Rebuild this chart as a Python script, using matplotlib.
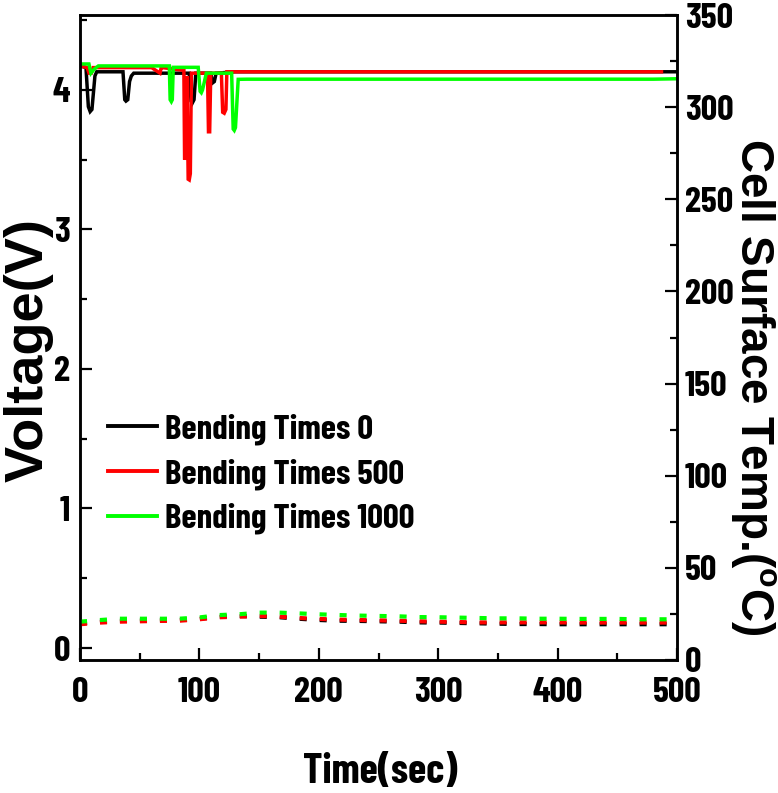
import matplotlib
matplotlib.use("Agg")
import matplotlib.pyplot as plt
from matplotlib.ticker import MultipleLocator

# ---------------- data ----------------
# Voltage traces (time in sec, voltage in V)
t_b0 = [1, 5, 7, 8.5, 10, 12.5, 14, 36, 37.5, 38.5, 40, 41.5, 43, 45, 60, 91.5, 93, 94, 95.5, 97, 109.5, 111, 112.5, 114, 130, 500]
v_b0 = [4.17, 4.16, 3.88, 3.845, 3.86, 4.10, 4.13, 4.13, 3.93, 3.92, 3.93, 4.06, 4.10, 4.12, 4.12, 4.12, 3.92, 3.905, 3.93, 4.12, 4.12, 4.05, 4.06, 4.12, 4.13, 4.13]

t_b500 = [1, 6, 7.5, 9.5, 11, 60, 67, 68, 69, 87, 87.6, 88.2, 88.8, 89.6, 90.6, 91.5, 92.4, 93.3, 106.8, 107.6, 108.6, 109.5, 118.4, 119.5, 120.8, 122.2, 123, 140, 487]
v_b500 = [4.17, 4.16, 4.12, 4.12, 4.16, 4.16, 4.12, 4.16, 4.16, 4.14, 3.50, 3.52, 3.60, 4.10, 3.36, 3.355, 3.40, 4.12, 4.12, 3.70, 3.70, 4.12, 4.12, 3.84, 3.833, 3.86, 4.13, 4.13, 4.13]

t_b1000 = [1, 7.5, 9.2, 12, 15.4, 74.8, 75.5, 76.5, 77.3, 78.1, 99, 100.6, 101.6, 102.6, 105.8, 127, 128.3, 129.2, 130.2, 132.5, 140, 480, 500]
v_b1000 = [4.186, 4.186, 4.12, 4.15, 4.172, 4.172, 3.93, 3.916, 3.93, 4.162, 4.162, 3.99, 3.98, 4.00, 4.12, 4.12, 3.72, 3.71, 3.73, 4.076, 4.077, 4.077, 4.08]

# Cell surface temperature (time in sec, temperature in degC)
t_temp = [0, 17, 33, 50, 67, 83, 100, 117, 133, 150, 167, 183, 200, 217, 233, 250,
          267, 283, 300, 317, 333, 350, 367, 383, 400, 417, 433, 450, 467, 483, 500]
T_b0 = [19.9, 20.8, 21.3, 21.5, 21.7, 21.7, 22.4, 23.5, 23.9, 23.5, 23.2, 22.4, 21.7, 21.3, 21.2, 21.0,
        20.8, 20.4, 20.3, 20.1, 19.9, 19.7, 19.5, 19.5, 19.4, 19.4, 19.4, 19.4, 19.4, 19.4, 19.4]
T_b500 = [19.4, 20.3, 20.8, 21.0, 21.2, 21.3, 22.1, 23.2, 23.5, 23.9, 23.5, 22.8, 22.3, 21.9, 21.7, 21.5,
          21.3, 21.0, 20.8, 20.6, 20.4, 20.4, 20.4, 20.4, 20.4, 20.3, 20.3, 20.3, 20.3, 20.3, 20.3]
T_b1000 = [20.8, 21.7, 22.4, 22.4, 22.4, 22.4, 23.1, 24.4, 24.8, 25.7, 25.7, 25.3, 24.8, 24.4, 24.1, 23.9,
           23.7, 23.3, 23.2, 23.0, 22.8, 22.6, 22.6, 22.4, 22.4, 22.3, 22.3, 22.3, 22.1, 22.1, 22.1]

labels = ["Bending Times 0", "Bending Times 500", "Bending Times 1000"]
colors = ["#000000", "#ff0000", "#00ff00"]

# ---------------- style ----------------
NARROW = ['Barlow Condensed', 'Liberation Sans', 'DejaVu Sans']
WIDE = ['Liberation Sans', 'DejaVu Sans']
plt.rcParams['font.family'] = NARROW
plt.rcParams['font.weight'] = 'bold'
plt.rcParams['mathtext.fontset'] = 'custom'
plt.rcParams['mathtext.rm'] = 'Liberation Sans:bold'
plt.rcParams['mathtext.bf'] = 'Liberation Sans:bold'

W, H = 778, 793
fig = plt.figure(figsize=(W / 100, H / 100), dpi=100)
L, R, B, T = 80, 677, 660, 15
ax = fig.add_axes([L / W, 1 - B / H, (R - L) / W, (B - T) / H])
ax2 = ax.twinx()

lw = 2.5
for t, v, c, lab in zip([t_b0, t_b500, t_b1000], [v_b0, v_b500, v_b1000], colors, labels):
    ax.plot(t, v, color=c, lw=lw, label=lab, solid_joinstyle='miter')

for TT, c in zip([T_b0, T_b500, T_b1000], colors):
    ax2.plot(t_temp, TT, color=c, lw=3, linestyle=(0, (1.7, 3.1)))

ax.set_xlim(0, 500)
ax.set_ylim(-0.086, 4.537)
ax2.set_ylim(0, 350)

ax.xaxis.set_major_locator(MultipleLocator(100))
ax.xaxis.set_minor_locator(MultipleLocator(50))
ax.yaxis.set_major_locator(MultipleLocator(1))
ax.yaxis.set_minor_locator(MultipleLocator(0.5))
ax2.yaxis.set_major_locator(MultipleLocator(50))
ax2.yaxis.set_minor_locator(MultipleLocator(25))

tick_fs = 26
ax.tick_params(axis='both', which='major', direction='in', length=8.5, width=1.6,
               labelsize=tick_fs, top=False, right=False)
ax.tick_params(axis='both', which='minor', direction='in', length=5, width=1.6,
               top=False, right=False)
ax.tick_params(axis='x', which='major', pad=12)
ax.tick_params(axis='y', which='major', pad=7)
ax2.tick_params(axis='y', which='major', direction='in', length=8.5, width=1.6,
                labelsize=tick_fs, pad=5.5, left=False, right=True)
ax2.tick_params(axis='y', which='minor', direction='in', length=5, width=1.6,
                left=False, right=True)

for a in (ax, ax2):
    for s in a.spines.values():
        s.set_linewidth(1.8)
    for lab in a.get_xticklabels() + a.get_yticklabels():
        lab.set_fontweight('bold')

ax.text(-0.086, 0.48, "Voltage(V)", transform=ax.transAxes, rotation=90,
        ha='center', va='center', fontsize=39, fontweight='bold', family=WIDE)
ax.text(1.128, 0.423, r"Cell Surface Temp.($\mathbf{^{o}}$C)", transform=ax.transAxes,
        rotation=-90, ha='center', va='center', fontsize=33, fontweight='bold', family=WIDE)
ax.text(0.5025, -0.174, "Time(sec)", transform=ax.transAxes, ha='center', va='center',
        fontsize=30, fontweight='bold')

leg = ax.legend(loc='upper left', bbox_to_anchor=(0.047, 0.382), frameon=False,
                prop={'size': 25, 'weight': 'bold', 'family': NARROW},
                handlelength=1.4, handletextpad=0.25, labelspacing=0.38,
                borderpad=0, borderaxespad=0)
for line in leg.get_lines():
    line.set_linewidth(2.8)

fig.savefig("out.png", dpi=100)
